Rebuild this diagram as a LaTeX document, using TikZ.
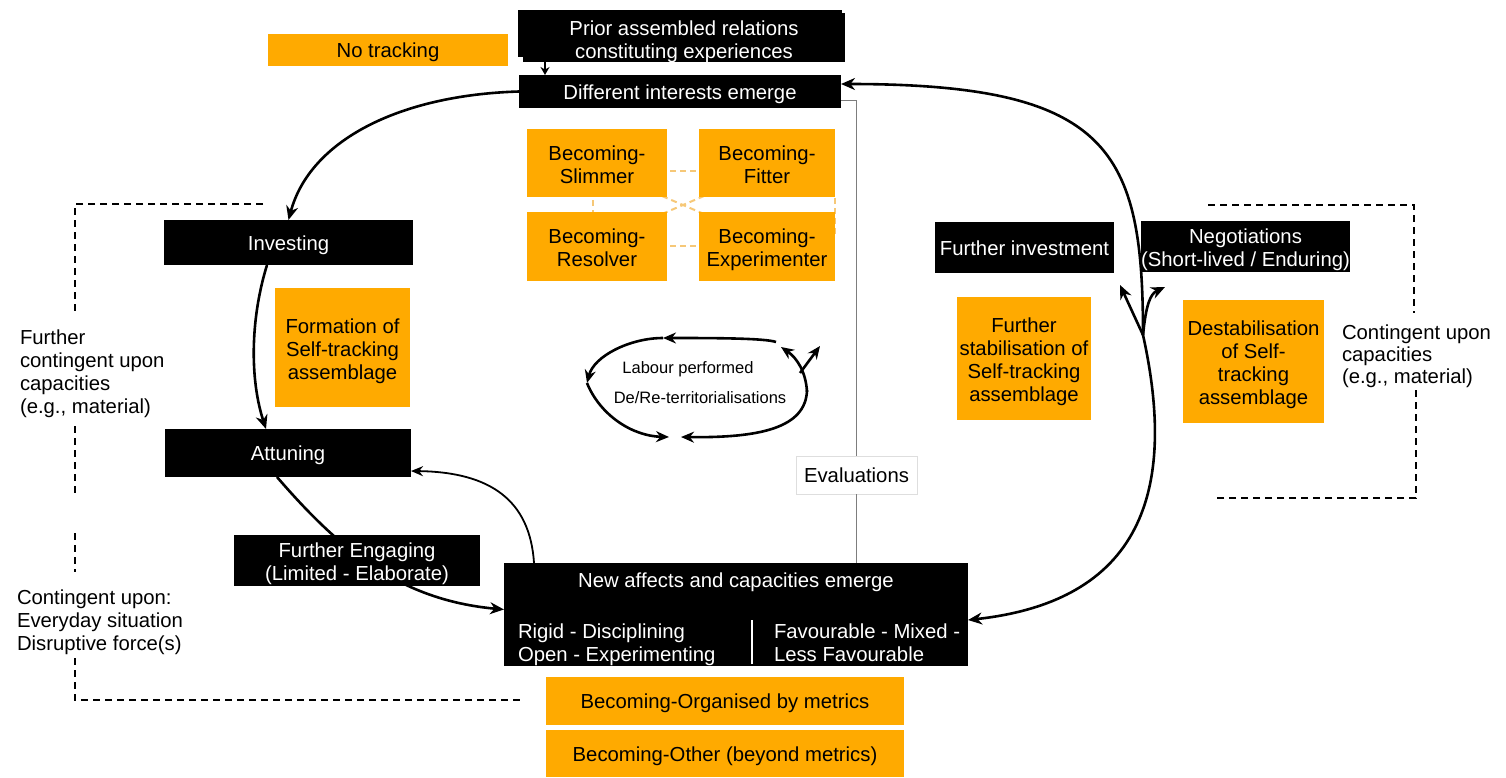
\documentclass[tikz,border=0pt]{standalone}
\usepackage{fontspec}
\setmainfont{Liberation Sans}
\usetikzlibrary{arrows.meta,calc}
\definecolor{tangerine}{RGB}{255,170,0}
\definecolor{peach}{RGB}{246,200,120}
\definecolor{evalgray}{RGB}{125,125,125}
\definecolor{evalframe}{RGB}{222,222,222}
% strut that gives the first line of a stacked label a fixed height
\newcommand\firstline{\rule{0pt}{1.12em}}

\begin{document}
\begin{tikzpicture}[x=1pt,y=-1pt,
  base/.style={inner sep=0pt, outer sep=0pt, align=center,
    font=\fontsize{20.3}{23}\selectfont,
    execute at begin node={\rule{0pt}{1.02em}},
    execute at end node={\rule[-0.24em]{0pt}{0.24em}}},
  blackbox/.style={base, fill=black, text=white},
  orangebox/.style={base, fill=tangerine, text=black},
  note/.style={base, align=left, anchor=west},
  looptext/.style={base, font=\fontsize{16.5}{19}\selectfont},
  arr/.style={line width=2.6pt, -{Stealth[length=14pt,width=12pt]}},
  thinarr/.style={line width=1.8pt, -{Stealth[length=12pt,width=10pt]}},
  smallarr/.style={line width=1.6pt, -{Stealth[length=8pt,width=9pt]}},
  looparr/.style={line width=2.6pt, -{Stealth[length=13pt,width=11pt]}},
  bracket/.style={line width=2.6pt, dash pattern=on 7pt off 5pt},
  linkdash/.style={peach, line width=2pt, dash pattern=on 6pt off 4pt},
  evalline/.style={evalgray, line width=1pt}
]
\useasboundingbox (0,0) rectangle (1506,777);

% ---- top of the cycle ----
\node[blackbox, minimum width=322pt, minimum height=49pt] (priorback) at (684,37.5) {};
\node[blackbox, minimum width=324pt, minimum height=47pt] (prior) at (680,33.5) {};
\node[base, text=white] (priortext) at (684,38) {\firstline Prior assembled relations\\constituting experiences};
\node[blackbox, minimum width=322pt, minimum height=33pt] (die) at (680,91.5) {Different interests emerge};
\node[orangebox, minimum width=240pt, minimum height=32pt] (notrack) at (388,50) {No tracking};
\draw[smallarr] ([xshift=-139pt]priorback.south) -- ([xshift=-135pt]die.north);

% ---- becoming boxes and their dashed links ----
\coordinate (sl) at (597,163);
\coordinate (fi) at (767,163);
\coordinate (re) at (597,246.5);
\coordinate (ex) at (767,246.5);
\draw[linkdash] (660,171) -- (700,171);
\draw[linkdash] (660,246) -- (700,246);
\draw[linkdash] (593,190) -- (593,220);
\draw[linkdash] (662,196) -- (704,214);
\draw[linkdash] (662,214) -- (704,196);
\draw[linkdash] (835,198) -- (835,235);
\node[orangebox, minimum width=140pt, minimum height=68pt] (slimmer) at (sl) {\firstline Becoming-\\Slimmer};
\node[orangebox, minimum width=136pt, minimum height=68pt] (fitter) at (fi) {\firstline Becoming-\\Fitter};
\node[orangebox, minimum width=140pt, minimum height=69pt] (resolver) at (re) {\firstline Becoming-\\Resolver};
\node[orangebox, minimum width=136pt, minimum height=69pt] (experimenter) at (ex) {\firstline Becoming-\\Experimenter};

% ---- left branch ----
\node[blackbox, minimum width=249pt, minimum height=45pt] (inv) at (288.5,242.5) {Investing};
\node[orangebox, minimum width=135pt, minimum height=119pt] (form) at (342.5,347.5) {\firstline Formation of\\Self-tracking\\assemblage};
\node[blackbox, minimum width=246pt, minimum height=48pt] (att) at (288,453) {Attuning};

% ---- bottom ----
\node[blackbox, minimum width=464pt, minimum height=103pt] (na) at (736,614.5) {};
\node[base, text=white] (nahead) at (736,580) {New affects and capacities emerge};
\node[note, text=white] (naleft) at (518,641) {\firstline Rigid - Disciplining\\Open - Experimenting};
\node[note, text=white] (naright) at (774,641) {\firstline Favourable - Mixed -\\Less Favourable};
\draw[white, line width=1.2pt] ($(na.south)+(16,-2)$) -- ($(na.south)+(16,-46)$);
\node[orangebox, minimum width=358pt, minimum height=48pt] (org) at (725,701) {Becoming-Organised by metrics};
\node[orangebox, minimum width=358pt, minimum height=47pt] (oth) at (725,753.5) {Becoming-Other (beyond metrics)};

% ---- evaluations ----
\node[base, fill=white, draw=evalframe, line width=0.8pt, minimum width=121pt, minimum height=38pt] (eval) at (856.5,475) {Evaluations};
\draw[evalline] ([yshift=-8.5pt]die.east) -| (eval.north);
\draw[evalline] (eval.south) -- (eval.south |- na.north);

% ---- right branch ----
\node[blackbox, minimum width=179pt, minimum height=51pt] (finv) at (1024.5,247.5) {Further investment};
\node[blackbox, minimum width=207pt, minimum height=51pt] (neg) at (1245.5,246.5) {\firstline Negotiations\\(Short-lived / Enduring)};
\node[orangebox, minimum width=134pt, minimum height=123pt] (fstab) at (1024,358.5) {\firstline Further\\stabilisation of\\Self-tracking\\assemblage};
\node[orangebox, minimum width=141pt, minimum height=123pt] (destab) at (1253.5,361.5) {\firstline Destabilisation\\of Self-\\tracking\\assemblage};

% ---- side notes ----
\node[note] (leftnote) at (20,370) {\firstline Further\\contingent upon\\capacities\\(e.g., material)};
\node[note] (lownote) at (17,619) {\firstline Contingent upon:\\Everyday situation\\Disruptive force(s)};
\node[note, font=\fontsize{20.3}{22}\selectfont] (rightnote) at (1342,352.5) {\firstline Contingent upon\\capacities\\(e.g., material)};

% ---- dashed brackets ----
\draw[bracket] (263,204) -- (75,204) -- (75,312);
\draw[bracket] (75,426) -- (75,497);
\draw[bracket] (75,533) -- (75,572);
\draw[bracket] (75,658) -- (75,700) -- (522,700);
\draw[bracket] (1208,205) -- (1414,205) -- (1414,313);
\draw[bracket] (1416,390) -- (1416,498) -- (1217,498);

% ---- main cycle connectors ----
\draw[arr] (die.west) .. controls (400,95) and (310,140) .. (inv.north);
\draw[arr] ([xshift=-21.5pt]inv.south) .. controls (250,320) and (250,380) .. ([xshift=-22pt]att.north);
\draw[arr] ([xshift=-11pt]att.south) .. controls (340,550) and (400,600) .. ([yshift=5pt]na.west);
\node[blackbox, minimum width=246pt, minimum height=49pt] (fe) at (357,560.5) {\firstline Further Engaging\\(Limited - Elaborate)};
\draw[thinarr] ([xshift=-202pt]na.north) .. controls (530,500) and (490,472) .. ([yshift=-18pt]att.east);

\coordinate (split) at (1143,335);
\draw[arr] (split) .. controls (1143,150) and (1110,84) .. ([yshift=7.5pt]die.east);
\draw[arr] (split) .. controls (1175,480) and (1150,600) .. ([yshift=-5.5pt]na.east);
\coordinate (negleft) at (1120,285);
\coordinate (negright) at (1165,287);
\draw[arr] (split) -- (negleft);
\draw[arr] (split) .. controls (1146,305) and (1150,294) .. (negright);

% ---- labour loop ----
\node[looptext] (labour) at (688,367) {Labour performed};
\node[looptext] (deter) at (700,397) {De/Re-territorialisations};
\coordinate (lp-top) at (663,338);
\coordinate (lp-left) at (587,383);
\coordinate (lp-botl) at (669,437);
\coordinate (lp-botr) at (681,437);
\coordinate (lp-tr) at (781,347);
\coordinate (lp-out) at (820,346);
\draw[looparr] (807,392) .. controls (806,372) and (797,358) .. (lp-tr);
\draw[looparr] (776,342) .. controls (765,338) and (710,338) .. (lp-top);
\draw[looparr] (lp-top) .. controls (630,338) and (594,356) .. (lp-left);
\draw[looparr] (lp-left) .. controls (600,415) and (632,436) .. (lp-botl);
\draw[looparr] (807,390) .. controls (806,428) and (760,438) .. (lp-botr);
\draw[looparr] (800,373) -- (lp-out);
\end{tikzpicture}
\end{document}
